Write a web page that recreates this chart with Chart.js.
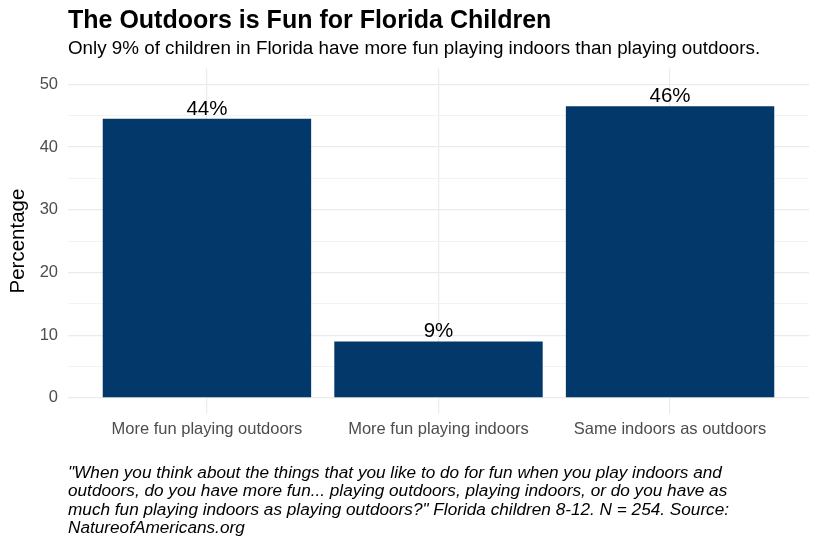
<!DOCTYPE html>
<html>
<head>
<meta charset="utf-8">
<script src="https://cdn.jsdelivr.net/npm/chart.js@4/dist/chart.umd.min.js"></script>
<style>
    html, body { margin: 0; padding: 0; background: #fff; }
    #wrap { width: 820px; height: 547px; position: relative; }
</style>
</head>
<body>
<div id="wrap"><canvas id="outdoorChart"></canvas></div>
<script>
// Chart data
const categories = ['More fun playing outdoors', 'More fun playing indoors', 'Same indoors as outdoors'];
const percentages = [44.5, 9.0, 46.5];
const barLabels = ['44%', '9%', '46%'];
const yTicks = [0, 5, 10, 15, 20, 25, 30, 35, 40, 45, 50];

const titleText = 'The Outdoors is Fun for Florida Children';
const subtitleText = 'Only 9% of children in Florida have more fun playing indoors than playing outdoors.';
const captionLines = [
    '"When you think about the things that you like to do for fun when you play indoors and',
    'outdoors, do you have more fun... playing outdoors, playing indoors, or do you have as',
    'much fun playing indoors as playing outdoors?" Florida children 8-12. N = 254. Source:',
    'NatureofAmericans.org'
];

const FONT = '"Liberation Sans", Arial, Helvetica, sans-serif';
const BAR_COLOR = '#03386A';

// draws title, subtitle, caption and the value labels
const textPlugin = {
    id: 'textPlugin',
    afterDraw(chart) {
        const ctx = chart.ctx;
        const left = chart.chartArea.left;
        ctx.save();
        ctx.textAlign = 'left';
        ctx.textBaseline = 'alphabetic';
        ctx.fillStyle = '#000';

        ctx.font = 'bold 25px ' + FONT;
        ctx.fillText(titleText, left, 28);

        ctx.font = '18.8px ' + FONT;
        ctx.fillText(subtitleText, left, 54);

        ctx.font = 'italic 17.2px ' + FONT;
        captionLines.forEach((line, i) => {
            ctx.fillText(line, left, 477.5 + i * 18.6);
        });

        // value labels above bars
        const meta = chart.getDatasetMeta(0);
        ctx.font = '20.5px ' + FONT;
        ctx.textAlign = 'center';
        meta.data.forEach((bar, i) => {
            ctx.fillText(barLabels[i], bar.x, bar.y - 4);
        });
        ctx.restore();
    }
};

document.addEventListener('DOMContentLoaded', () => {
    const ctx = document.getElementById('outdoorChart');

    new Chart(ctx, {
        type: 'bar',
        data: {
            datasets: [{
                data: percentages.map((v, i) => ({ x: i + 1, y: v })),
                backgroundColor: BAR_COLOR,
                borderWidth: 0,
                categoryPercentage: 1,
                barPercentage: 0.9
            }]
        },
        options: {
            responsive: true,
            maintainAspectRatio: false,
            animation: false,
            layout: {
                padding: { top: 68.6, right: 11, bottom: 100, left: 0 }
            },
            plugins: {
                legend: { display: false },
                tooltip: { enabled: false }
            },
            scales: {
                x: {
                    type: 'linear',
                    min: 0.4,
                    max: 3.6,
                    offset: false,
                    afterBuildTicks: (scale) => {
                        scale.ticks = categories.map((c, i) => ({ value: i + 1 }));
                    },
                    afterFit: (scale) => { scale.height = 33.5; },
                    ticks: {
                        autoSkip: false,
                        maxRotation: 0,
                        padding: 6,
                        color: '#4D4D4D',
                        font: { family: FONT, size: 16.5 },
                        callback: (v) => categories[Math.round(v) - 1] || ''
                    },
                    grid: { offset: false, color: '#EBEBEB', lineWidth: 1.2, drawTicks: false },
                    border: { display: false }
                },
                y: {
                    type: 'linear',
                    min: -2.5,
                    max: 52.5,
                    afterBuildTicks: (scale) => {
                        scale.ticks = yTicks.map(v => ({ value: v }));
                    },
                    afterFit: (scale) => { scale.width = 68; },
                    title: {
                        display: true,
                        text: 'Percentage',
                        color: '#000',
                        font: { family: FONT, size: 20.5 },
                        padding: { top: 6, bottom: 0 }
                    },
                    ticks: {
                        autoSkip: false,
                        padding: 10,
                        color: '#4D4D4D',
                        font: { family: FONT, size: 16.5 },
                        callback: (v) => (v % 10 === 0 ? v : '')
                    },
                    grid: {
                        color: (c) => (c.tick && c.tick.value % 10 === 0 ? '#EBEBEB' : '#F3F3F3'),
                        lineWidth: (c) => (c.tick && c.tick.value % 10 === 0 ? 1.2 : 1),
                        drawTicks: false
                    },
                    border: { display: false }
                }
            }
        },
        plugins: [textPlugin]
    });
});
</script>
</body>
</html>
